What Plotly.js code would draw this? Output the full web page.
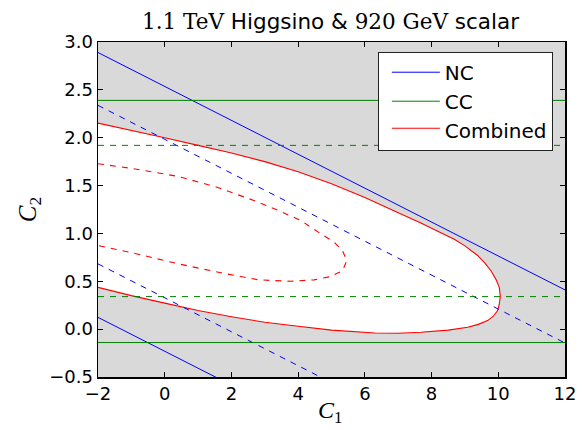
<!DOCTYPE html>
<html><head><meta charset="utf-8">
<script src="https://cdn.plot.ly/plotly-3.0.1.min.js"></script>
<style>html,body{margin:0;padding:0;background:#fff}</style>
</head><body>
<div id="chart" style="width:584px;height:430px"></div>
<script>
// NC (neutral current) bounds: straight lines across the C1 range
const lineX = [-2, 12];
const ncSolidUpperY = [2.89, 0.41];
const ncSolidLowerY = [0.123, -2.355];
const ncDashUpperY = [2.338, -0.145];
const ncDashLowerY = [0.682, -1.80];
// CC (charged current) bounds: horizontal lines
const ccSolidUpperY = [2.39, 2.39];
const ccSolidLowerY = [-0.14, -0.14];
const ccDashUpperY = [1.92, 1.92];
const ccDashLowerY = [0.34, 0.34];
// Combined contour (solid, outer)
const combX = [-2, -1, 0, 1, 2, 3, 4, 5, 6, 7, 7.68, 8.2, 8.68, 9.0, 9.38, 9.6, 9.78, 9.93, 10.03, 10.06,
  10.03, 9.98, 9.85, 9.68, 9.4, 9.08, 8.5, 7.68, 7.0, 6.3, 5.5, 5.0, 4.0, 3.0, 2.0, 1.0, 0.0, -1.0, -2.0];
const combY = [2.153, 2.08, 2.0, 1.92, 1.84, 1.75, 1.645, 1.52, 1.375, 1.215, 1.11, 1.02, 0.94, 0.87, 0.77, 0.69, 0.61, 0.52, 0.437, 0.34,
  0.26, 0.194, 0.135, 0.089, 0.05, 0.02, -0.01, -0.033, -0.043, -0.04, -0.025, -0.01, 0.03, 0.072, 0.13, 0.195, 0.272, 0.35, 0.437];
// Combined contour (dashed, inner)
const combInX = [-2, -1, 0, 0.41, 1.5, 2.67, 3.48, 4.08, 4.68, 5.08, 5.33, 5.46, 5.33, 4.98, 4.48, 3.78, 2.81, 1.61, 0.41, -1, -2];
const combInY = [1.728, 1.68, 1.62, 1.595, 1.49, 1.345, 1.229, 1.135, 0.996, 0.908, 0.82, 0.716, 0.612, 0.55, 0.515, 0.50, 0.515, 0.594, 0.682, 0.80, 0.873];

const BLUE = '#0000ff', GREEN = '#008000', RED = '#ff0000';
const DASH = '6px,6px';
function ln(x, y, color, dash, name, group, show, rank, width) {
  return {x: x, y: y, type: 'scatter', mode: 'lines', name: name, legendgroup: group, showlegend: show,
    legendrank: rank, hoverinfo: 'skip',
    line: {color: color, width: width || 1, dash: dash || 'solid'}};
}
const traces = [
  Object.assign(ln(combX, combY, RED, null, 'Combined', 'g3', true, 3, 1.1), {fill: 'toself', fillcolor: '#ffffff'}),
  ln(combInX, combInY, RED, DASH, 'Combined 68', 'g3', false, 3, 1.1),
  ln(lineX, ncSolidUpperY, BLUE, null, 'NC', 'g1', true, 1),
  ln(lineX, ncSolidLowerY, BLUE, null, 'NC2', 'g1', false, 1),
  ln(lineX, ncDashUpperY, BLUE, DASH, 'NC3', 'g1', false, 1),
  ln(lineX, ncDashLowerY, BLUE, DASH, 'NC4', 'g1', false, 1),
  ln(lineX, ccSolidUpperY, GREEN, null, 'CC', 'g2', true, 2),
  ln(lineX, ccSolidLowerY, GREEN, null, 'CC2', 'g2', false, 2),
  ln(lineX, ccDashUpperY, GREEN, DASH, 'CC3', 'g2', false, 2),
  ln(lineX, ccDashLowerY, GREEN, DASH, 'CC4', 'g2', false, 2)
];
const serif = 'font-family:DejaVu Serif';
const layout = {
  width: 584, height: 430,
  margin: {l: 98, r: 19, t: 42, b: 53},
  paper_bgcolor: '#ffffff', plot_bgcolor: '#d9d9d9',
  font: {family: 'DejaVu Sans', color: '#000'},
  title: {text: '<span style="' + serif + '">1.1 TeV</span> Higgsino &amp; <span style="' + serif + '">920 GeV</span> scalar',
    font: {size: 21.5, family: 'DejaVu Sans', color: '#000'}, x: 0.566, xref: 'container', xanchor: 'center',
    y: 0.949, yref: 'container', yanchor: 'middle'},
  xaxis: {range: [-2, 12], dtick: 2, tick0: -2, showgrid: false, zeroline: false, automargin: false,
    showline: true, linecolor: '#000', linewidth: 1.5, mirror: 'ticks',
    ticks: 'inside', ticklen: 5, tickwidth: 1.2, tickcolor: '#000',
    tickfont: {size: 18, family: 'DejaVu Sans'}},
  yaxis: {range: [-0.5, 3.0], dtick: 0.5, tick0: 0, tickformat: '.1f', showgrid: false, zeroline: false, automargin: false,
    showline: true, linecolor: '#000', linewidth: 1.5, mirror: 'ticks',
    ticks: 'inside', ticklen: 5, tickwidth: 1.2, tickcolor: '#000',
    tickfont: {size: 18, family: 'DejaVu Sans'},
    title: {text: '<i>C</i><sub>2</sub>', font: {size: 25, family: 'Liberation Serif'}, standoff: 5}},
  annotations: [{text: '<i>C</i><sub>1</sub>', xref: 'paper', yref: 'paper', x: 0.497, y: -0.103,
    xanchor: 'center', yanchor: 'middle', showarrow: false,
    font: {size: 24, family: 'Liberation Serif', color: '#000'}}],
  legend: {x: 0.974, y: 0.971, xanchor: 'right', yanchor: 'top', bgcolor: '#ffffff',
    bordercolor: '#222', borderwidth: 1, font: {size: 20, family: 'DejaVu Sans'},
    itemwidth: 48, indentation: 8, traceorder: 'grouped', tracegroupgap: 0},
  showlegend: true
};
Plotly.newPlot('chart', traces, layout, {staticPlot: true, displayModeBar: false});
</script>
</body></html>
